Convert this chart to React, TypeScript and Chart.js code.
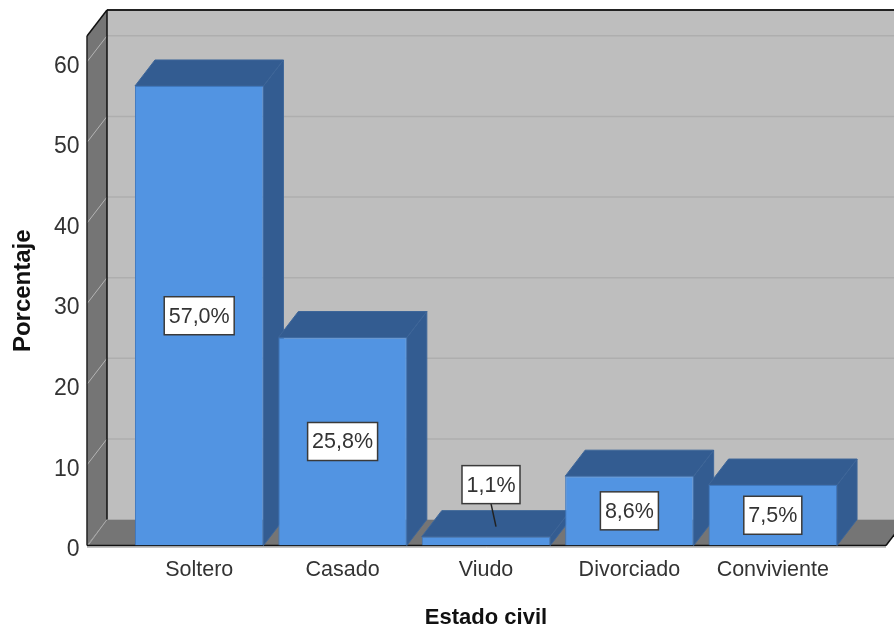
import React, { useEffect, useRef } from "react";
import { Chart, registerables } from "chart.js";

Chart.register(...registerables);

const categories = ["Soltero", "Casado", "Viudo", "Divorciado", "Conviviente"];
const percentages = [57.0, 25.8, 1.1, 8.6, 7.5];
const yTicks = [0, 10, 20, 30, 40, 50, 60];
const xTitle = "Estado civil";
const yTitle = "Porcentaje";

const FONT = "'Liberation Sans', Arial, sans-serif";
const DEPTH_X = 20;
const DEPTH_Y = 26;
const Y_LABEL_DROP = 4.5;
const WALL_DARK = "#757575";
const WALL_BACK = "#BEBEBE";
const GRID_BACK = "#AEAEAE";
const GRID_SIDE = "#B4B4B4";
const BAR_FRONT = "#5294E2";
const BAR_SHADE = "#335C91";
const TEXT = "#333333";

function poly(ctx: CanvasRenderingContext2D, pts: number[][], fill: string, stroke?: string, width = 1) {
  ctx.beginPath();
  pts.forEach(([x, y], i) => (i ? ctx.lineTo(x, y) : ctx.moveTo(x, y)));
  ctx.closePath();
  ctx.fillStyle = fill;
  ctx.fill();
  if (stroke) {
    ctx.strokeStyle = stroke;
    ctx.lineWidth = width;
    ctx.stroke();
  }
}

function line(ctx: CanvasRenderingContext2D, x1: number, y1: number, x2: number, y2: number, color: string, width: number) {
  ctx.beginPath();
  ctx.moveTo(x1, y1);
  ctx.lineTo(x2, y2);
  ctx.strokeStyle = color;
  ctx.lineWidth = width;
  ctx.stroke();
}

// Room behind the bars plus the extruded faces of each bar.
const boxBackdrop = {
  id: "boxBackdrop",
  beforeDatasetsDraw(chart: any) {
    const { ctx, scales, width } = chart;
    const y = scales.y;
    const x = scales.x;
    const floorY = y.getPixelForValue(0);
    const topY = y.top;
    const floorLeft = x.left - 40.5;
    const floorRight = x.right + 41.5;
    const wallLeft = floorLeft + DEPTH_X;
    const backFloorY = floorY - DEPTH_Y;
    const backTopY = topY - DEPTH_Y;

    ctx.save();
    poly(ctx, [[wallLeft, backTopY], [width + 30, backTopY], [width + 30, backFloorY], [wallLeft, backFloorY]], WALL_BACK);
    poly(ctx, [[floorLeft, topY], [wallLeft, backTopY], [wallLeft, backFloorY], [floorLeft, floorY]], WALL_DARK);
    poly(ctx, [[floorLeft, floorY], [wallLeft, backFloorY], [floorRight + DEPTH_X, backFloorY], [floorRight, floorY]], WALL_DARK);

    yTicks.filter((t) => t > 0).forEach((t) => {
      const py = y.getPixelForValue(t);
      line(ctx, wallLeft, py - DEPTH_Y, width, py - DEPTH_Y, GRID_BACK, 1.5);
      line(ctx, floorLeft, py, wallLeft, py - DEPTH_Y, GRID_SIDE, 1);
    });
    line(ctx, floorLeft + 1, floorY, wallLeft, backFloorY, "#A8A8A8", 1);

    line(ctx, wallLeft, backTopY, width, backTopY, "#222222", 2);
    line(ctx, wallLeft, backTopY, wallLeft, backFloorY, "#111111", 1.5);
    line(ctx, floorLeft, topY, wallLeft, backTopY, "#111111", 1.5);
    line(ctx, floorLeft, topY, floorLeft, floorY, "#222222", 1.5);
    line(ctx, floorRight, floorY, floorRight + DEPTH_X, backFloorY, "#111111", 1.5);
    line(ctx, floorLeft, floorY, floorRight, floorY, "#111111", 1.5);
    line(ctx, floorLeft, floorY + 1.5, floorRight, floorY + 1.5, "#8A8A8A", 1);

    const meta = chart.getDatasetMeta(0);
    meta.data.forEach((bar: any) => {
      const half = bar.width / 2;
      const l = bar.x - half;
      const r = bar.x + half;
      const t = bar.y;
      poly(ctx, [[r, t], [r + DEPTH_X, t - DEPTH_Y], [r + DEPTH_X, floorY - DEPTH_Y], [r, floorY]], BAR_SHADE, "#3E6699", 1);
      poly(ctx, [[l, t], [l + DEPTH_X, t - DEPTH_Y], [r + DEPTH_X, t - DEPTH_Y], [r, t]], BAR_SHADE, "#3E6699", 1);
    });
    ctx.restore();
  },
  // Value boxes sit on top of the finished bars; very short bars get a callout above them.
  afterDatasetsDraw(chart: any) {
    const { ctx, scales } = chart;
    const floorY = scales.y.getPixelForValue(0);
    const meta = chart.getDatasetMeta(0);
    ctx.save();
    ctx.font = `21.5px ${FONT}`;
    ctx.textAlign = "center";
    ctx.textBaseline = "middle";
    const boxH = 38;
    percentages.forEach((v, i) => {
      const bar = meta.data[i];
      const callout = v < 3;
      const text = `${v.toFixed(1).replace(".", ",")}%`;
      const boxW = ctx.measureText(text).width + 9;
      const cx = bar.x + (callout ? 5 : 0);
      const cy = callout ? bar.y - 52 : (bar.y + floorY) / 2;
      if (callout) {
        line(ctx, cx, cy + boxH / 2, bar.x + DEPTH_X / 2, bar.y - DEPTH_Y / 2 + 3, "#222222", 1.5);
      }
      ctx.fillStyle = "#FFFFFF";
      ctx.fillRect(cx - boxW / 2, cy - boxH / 2, boxW, boxH);
      ctx.strokeStyle = "#3A3A3A";
      ctx.lineWidth = 1.5;
      ctx.strokeRect(cx - boxW / 2, cy - boxH / 2, boxW, boxH);
      ctx.fillStyle = TEXT;
      ctx.fillText(text, cx, cy + 1);
    });
    ctx.restore();
  },
};

export default function App() {
  const ref = useRef<HTMLCanvasElement>(null);

  useEffect(() => {
    if (!ref.current) return;
    const chart = new Chart(ref.current, {
      type: "bar",
      data: {
        labels: categories,
        datasets: [
          {
            data: percentages,
            backgroundColor: BAR_FRONT,
            borderColor: "#3F78BE",
            borderWidth: 1,
            barPercentage: 0.896,
            categoryPercentage: 1,
          },
        ],
      },
      options: {
        responsive: false,
        animation: false,
        layout: { padding: { top: 36, right: 49.5, left: 0, bottom: 0 } },
        plugins: { legend: { display: false }, tooltip: { enabled: false } },
        scales: {
          x: {
            afterFit: (s: any) => {
              s.height = 85.5;
            },
            grid: { display: false, drawTicks: false },
            border: { display: false },
            ticks: { color: TEXT, padding: 12, maxRotation: 0, font: { family: FONT, size: 21.5 } },
            title: {
              display: true,
              text: xTitle,
              color: "#111111",
              padding: { top: 0, bottom: 0 },
              font: { family: FONT, size: 22, weight: "bold" },
            },
          },
          y: {
            min: 0,
            max: 63.2,
            afterFit: (s: any) => {
              s.width = 127.5;
              // Tick padding is horizontal here, so it must not reserve space above or below the scale.
              s.paddingTop = 0;
              s.paddingBottom = 0;
              // Tick numbers hang slightly below the line they belong to.
              if (!s.__dropped) {
                s.__dropped = true;
                const compute = s._computeLabelItems.bind(s);
                s._computeLabelItems = (area: any) =>
                  compute(area).map((item: any) => ({ ...item, textOffset: item.textOffset + Y_LABEL_DROP }));
              }
            },
            grid: { display: false, drawTicks: false },
            border: { display: false },
            ticks: {
              color: TEXT,
              padding: 48,
              stepSize: 10,
              includeBounds: false,
              font: { family: FONT, size: 23 },
            },
            title: {
              display: true,
              text: yTitle,
              color: "#111111",
              padding: { top: 9, bottom: 0 },
              font: { family: FONT, size: 24, weight: "bold" },
            },
          },
        },
      },
      plugins: [boxBackdrop],
    } as any);
    return () => chart.destroy();
  }, []);

  return (
    <div style={{ position: "absolute", left: 0, top: 0, width: 894, height: 631, background: "#FFFFFF", overflow: "hidden" }}>
      <canvas ref={ref} width={894} height={631} style={{ display: "block" }} />
    </div>
  );
}
